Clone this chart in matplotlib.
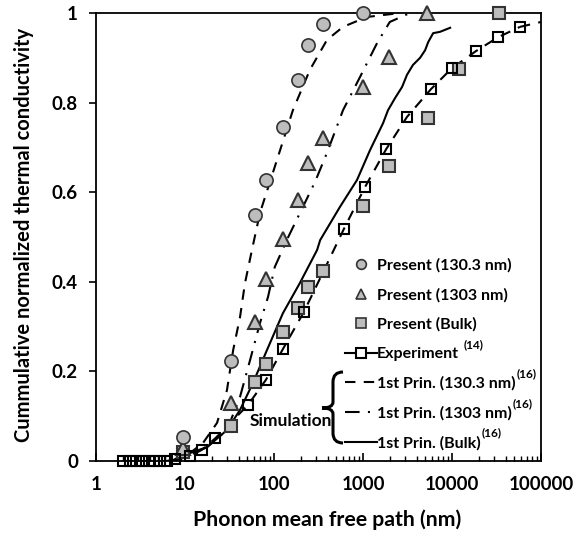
import matplotlib
matplotlib.use("Agg")
import matplotlib.pyplot as plt
from matplotlib.lines import Line2D
from matplotlib.path import Path
from matplotlib.patches import PathPatch
from matplotlib.ticker import LogLocator, FixedLocator, NullFormatter

plt.rcParams['font.family'] = ['Lato', 'DejaVu Sans']
plt.rcParams['font.weight'] = 'bold'

# ---- data ----
circ_x = [9.5, 33, 61, 81, 126, 186, 241, 356, 1000]
circ_y = [0.054, 0.223, 0.549, 0.627, 0.746, 0.850, 0.929, 0.975, 1.0]

tri_x = [9.5, 33, 61, 81, 126, 186, 241, 356, 1000, 1960, 5240]
tri_y = [0.03, 0.13, 0.31, 0.406, 0.496, 0.583, 0.665, 0.721, 0.835, 0.902, 1.0]

sq_x = [9.5, 33, 61, 81, 126, 186, 241, 356, 1000, 1960, 5400, 12000, 33700]
sq_y = [0.02, 0.078, 0.176, 0.216, 0.288, 0.341, 0.388, 0.424, 0.569, 0.658, 0.766, 0.875, 1.0]

exp_x = [2.0, 2.4, 2.8, 3.3, 3.9, 4.5, 5.3, 6.2, 7.8, 11.4, 15.5, 22, 51, 81, 126, 217,
         610, 1050, 1820, 3120, 5800, 10000, 18600, 33000, 58000]
exp_y = [0, 0, 0, 0, 0, 0, 0, 0, 0.004, 0.011, 0.025, 0.051, 0.125, 0.181, 0.25, 0.333,
         0.518, 0.611, 0.696, 0.768, 0.830, 0.877, 0.915, 0.946, 0.969]
exp_end_x = [58000, 100000]
exp_end_y = [0.969, 0.98]

fp130_x = [7, 9, 11.4, 15.9, 22.9, 29.6, 34.8, 41.5, 47.2, 56.5, 69.6, 108, 163, 253, 394, 596, 1100, 2600]
fp130_y = [0, 0.006, 0.018, 0.04, 0.085, 0.158, 0.248, 0.321, 0.397, 0.471, 0.554, 0.672, 0.783,
           0.873, 0.940, 0.969, 0.991, 1.0]

fp1303_x = [7, 11.4, 17.7, 29.6, 41.5, 53.8, 69.6, 85.6, 102, 143, 222, 289, 394, 596, 925, 1440, 2000, 3370]
fp1303_y = [0, 0.013, 0.031, 0.069, 0.143, 0.225, 0.308, 0.366, 0.433, 0.498, 0.576, 0.623, 0.688,
            0.783, 0.857, 0.933, 0.98, 1.0]

fpbulk_x = [7.3, 11.4, 17.7, 29.6, 41.5, 58, 83.5, 126, 195, 305, 330, 550, 855, 1200, 1680, 1910,
            2290, 2750, 3120, 3640, 4380, 4990, 5400, 6140, 7340, 9530]
fpbulk_y = [0.002, 0.018, 0.031, 0.069, 0.114, 0.174, 0.248, 0.330, 0.397, 0.471, 0.493, 0.567, 0.627,
            0.694, 0.754, 0.783, 0.810, 0.835, 0.862, 0.884, 0.900, 0.917, 0.935, 0.955, 0.958, 0.967]

x_ticks = [1, 10, 100, 1000, 10000, 100000]
x_ticklabels = ['1', '10', '100', '1000', '10000', '100000']
y_ticks = [0, 0.2, 0.4, 0.6, 0.8, 1.0]
y_ticklabels = ['0', '0.2', '0.4', '0.6', '0.8', '1']

labels = ['Present (130.3 nm)', 'Present (1303 nm)', 'Present (Bulk)', 'Experiment',
          '1st Prin. (130.3 nm)', '1st Prin. (1303 nm)', '1st Prin. (Bulk)']
label_refs = ['', '', '', '(14)', '(16)', '(16)', '(16)']

gray = '#bdbdbd'
edge = '#333333'

fig = plt.figure(figsize=(5.8, 5.34), dpi=100)
ax = fig.add_axes([96/580, 1-461/534, 445/580, 448/534])
ax.set_xscale('log')
ax.set_xlim(1, 100000)
ax.set_ylim(0, 1)

# lines
ax.plot(fp130_x, fp130_y, color='black', lw=1.5, ls=(0, (5, 4)), zorder=2)
ax.plot(fp1303_x, fp1303_y, color='black', lw=1.5, ls=(0, (7, 4, 1, 4)), zorder=2)
ax.plot(fpbulk_x, fpbulk_y, color='black', lw=1.5, ls='-', zorder=2)
ax.plot(exp_x, exp_y, color='black', lw=1.5, ls=(0, (5, 4)), zorder=2)
ax.plot(exp_end_x, exp_end_y, color='black', lw=1.5, ls=(0, (5, 4)), zorder=2)

# markers
ax.plot(exp_x, exp_y, ls='none', marker='s', ms=7.5, mfc='none', mec='black', mew=1.5, zorder=4,
        clip_on=False)
ax.plot(sq_x, sq_y, ls='none', marker='s', ms=8.5, mfc=gray, mec=edge, mew=1.5, zorder=3, clip_on=False)
ax.plot(tri_x, tri_y, ls='none', marker='^', ms=9.5, mfc=gray, mec=edge, mew=1.5, zorder=3, clip_on=False)
ax.plot(circ_x, circ_y, ls='none', marker='o', ms=9.5, mfc=gray, mec=edge, mew=1.2, zorder=3, clip_on=False)

# axes styling
for s in ax.spines.values():
    s.set_linewidth(1.3)
    s.set_color('black')
ax.set_xticks(x_ticks)
ax.set_xticklabels(x_ticklabels)
ax.xaxis.set_minor_locator(LogLocator(base=10, subs=range(2, 10)))
ax.xaxis.set_minor_formatter(NullFormatter())
ax.set_yticks(y_ticks)
ax.set_yticklabels(y_ticklabels)
ax.tick_params(axis='x', which='major', direction='in', length=6, width=1.2, pad=11, labelsize=13.5)
ax.tick_params(axis='x', which='minor', direction='in', length=3.5, width=1.0)
ax.tick_params(axis='y', which='major', direction='out', length=5, width=1.2, pad=8, labelsize=13.5)
ax.yaxis.set_minor_locator(FixedLocator([]))
for t in ax.get_xticklabels() + ax.get_yticklabels():
    t.set_fontweight('bold')

ax.set_xlabel('Phonon mean free path (nm)', fontsize=15.3, fontweight='bold')
ax.set_ylabel('Cummulative normalized thermal conductivity', fontsize=14.5, fontweight='bold')
ax.xaxis.set_label_coords((327 - 96) / 445, (461 - 509) / 448)
ax.yaxis.set_label_coords((34 - 96) / 445, (461 - 235) / 448)

# legend
handles = [
    Line2D([], [], ls='none', marker='o', ms=7, mfc=gray, mec=edge, mew=1.2),
    Line2D([], [], ls='none', marker='^', ms=7, mfc=gray, mec=edge, mew=1.2),
    Line2D([], [], ls='none', marker='s', ms=7, mfc=gray, mec=edge, mew=1.2),
    Line2D([], [], color='black', lw=1.5, ls='-', marker='s', ms=7, mfc='white', mec='black', mew=1.5),
    Line2D([], [], color='black', lw=1.5, ls=(0, (5, 4))),
    Line2D([], [], color='black', lw=1.5, ls=(0, (7, 4, 1, 4))),
    Line2D([], [], color='black', lw=1.5, ls='-'),
]
leg = ax.legend(handles, labels, loc='upper left', bbox_to_anchor=((345-96)/445, (461-258)/448),
                frameon=False, fontsize=11.5, handlelength=2.0, handletextpad=0.0,
                labelspacing=0.95, borderpad=0, borderaxespad=0)
for t in leg.get_texts():
    t.set_fontweight('bold')

# superscript reference numbers next to legend labels
fig.canvas.draw()
inv = fig.transFigure.inverted()
for t, ref in zip(leg.get_texts(), label_refs):
    if not ref:
        continue
    bb = t.get_window_extent()
    gap = 5 if ref == '(14)' else 1
    x0, y0 = inv.transform((bb.x1 + gap, bb.y1 - 3))
    fig.text(x0, y0, ref, fontsize=8.5, fontweight='bold', ha='left', va='bottom')

# brace for "Simulation"
def ax_pt(px, py):
    return ((px - 96) / 445, (461 - py) / 448)

verts = [ax_pt(343, 372), ax_pt(333, 372), ax_pt(333, 382),
         ax_pt(333, 402),
         ax_pt(333, 408), ax_pt(322, 408),
         ax_pt(333, 408), ax_pt(333, 414),
         ax_pt(333, 433),
         ax_pt(333, 443), ax_pt(343, 443)]
codes = [Path.MOVETO, Path.CURVE3, Path.CURVE3,
         Path.LINETO,
         Path.CURVE3, Path.CURVE3,
         Path.CURVE3, Path.CURVE3,
         Path.LINETO,
         Path.CURVE3, Path.CURVE3]
brace = PathPatch(Path(verts, codes), transform=ax.transAxes, fill=False, lw=2.2,
                  edgecolor='black', zorder=5)
ax.add_patch(brace)
sx, sy = ax_pt(332, 421)
ax.text(sx, sy, 'Simulation', transform=ax.transAxes, ha='right', va='center',
        fontsize=12.5, fontweight='bold', zorder=6)

fig.savefig('out.png', dpi=100)
